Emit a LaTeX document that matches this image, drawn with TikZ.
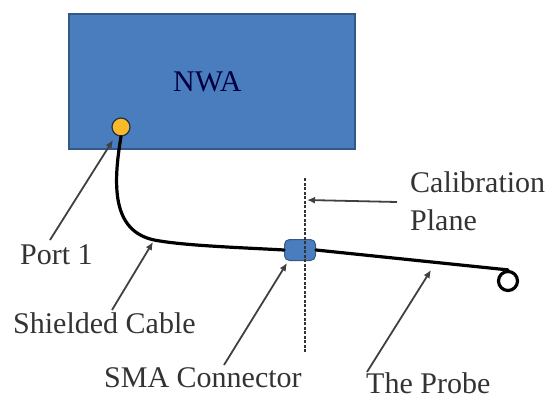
\documentclass[tikz,border=0pt]{standalone}
\usepackage{fontspec}
\setmainfont{Liberation Serif}
\usetikzlibrary{arrows.meta}
\definecolor{nwablue}{RGB}{73,125,189}
\definecolor{nwaedge}{RGB}{52,88,135}
\definecolor{portyellow}{RGB}{250,185,40}
\tikzset{
	label/.style={inner sep=0, anchor=base west, text=black!80, font=\fontsize{30}{30}\selectfont},
	pointer/.style={line width=1.8pt, color=black!75, -{Latex[length=8pt,width=7pt]}},
	cable/.style={line width=3.2pt, color=black, line cap=round}
}
\begin{document}
\begin{tikzpicture}[x=1pt, y=-1pt]
		%%%%% START %%%%%
		\useasboundingbox (0, 0) rectangle (547, 399);
		
		\node[draw=nwaedge, fill=nwablue, line width=2pt, minimum width=286pt, minimum height=135pt, inner sep=0] (nwa) at (212, 81) {};
		\node[label, text=black!75!blue] (nwalabel) at (173, 91) {NWA};
		
		\node[circle, draw=black!60!nwablue, fill=portyellow, line width=1.2pt, minimum size=18pt, inner sep=0] (port) at (121, 127) {};
		\node[draw=nwaedge, fill=nwablue, rounded corners=5pt, line width=1pt, minimum width=31pt, minimum height=21pt, inner sep=0] (sma) at (300, 250) {};
		\node[circle, draw=black, line width=3.2pt, minimum size=19pt, inner sep=0] (loop) at (508, 281) {};
		
		\draw[cable] (port.south) .. controls (112, 190) and (113, 235) .. (160, 241) .. controls (190, 246) and (250, 248) .. (sma.west);
		\draw[cable] (sma.east) -- (loop.north);
		
		\coordinate (planetop) at (305, 178);
		\coordinate (planebot) at (305, 352);
		\draw[line width=1.2pt, color=black!80, dash pattern=on 3pt off 1.5pt] (planetop) -- (planebot);
		
		\node[label] (cal) at (410, 192) {Calibration};
		\node[label] (plane) at (410, 230) {Plane};
		\node[label] (portlabel) at (20, 264) {Port 1};
		\node[label] (shield) at (13, 333) {Shielded Cable};
		\node[label] (smalabel) at (104, 387) {SMA Connector};
		\node[label] (probe) at (366, 393) {The Probe};
		
		\coordinate (calstart) at (397, 202);
		\coordinate (calend) at (307, 200);
		\coordinate (porttail) at (50, 240);
		\coordinate (porttip) at (113, 140);
		\coordinate (shieldtail) at (112, 310);
		\coordinate (shieldtip) at (153, 242);
		\coordinate (smatail) at (224, 365);
		\coordinate (smatip) at (287, 263);
		\coordinate (probetail) at (367, 372);
		\coordinate (probetip) at (431, 270);
		
		\draw[pointer] (calstart) -- (calend);
		\draw[pointer] (porttail) -- (porttip);
		\draw[pointer] (shieldtail) -- (shieldtip);
		\draw[pointer] (smatail) -- (smatip);
		\draw[pointer] (probetail) -- (probetip);
		%%%%% END %%%%%
	\end{tikzpicture}
\end{document}
